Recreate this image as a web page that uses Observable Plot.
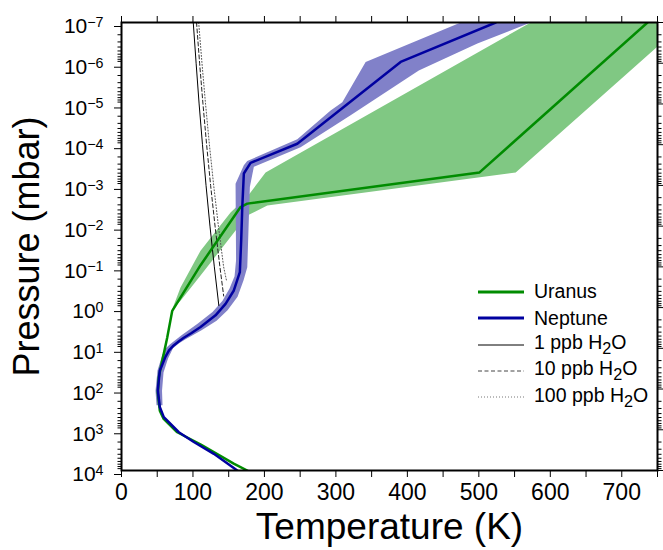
<!DOCTYPE html>
<html><head><meta charset="utf-8">
<script src="https://cdn.jsdelivr.net/npm/d3@7"></script>
<script src="https://cdn.jsdelivr.net/npm/@observablehq/plot@0.6"></script>
<style>
body{margin:0;background:#fff;}
#wrap{position:relative;width:663px;height:550px;font-family:'Liberation Sans',Arial,Helvetica,sans-serif;}
#legend{position:absolute;left:478px;top:279px;font-size:19.5px;color:#000;line-height:1;}
.row{display:flex;align-items:center;height:26.3px;white-space:nowrap;}
.row svg{width:46px;height:10px;margin-right:10px;flex:none;}
</style></head><body><div id="wrap"></div>
<script>
// ---- data (temperature K, pressure mbar) ----
const uranusT = [176, 157, 111, 78, 59, 53.6, 50.8, 52.2, 56, 59.2, 64, 71, 110.6, 166.6, 176, 501, 736];
const uranusP = [1e4, 6800, 2300, 1150, 540, 340, 126, 51, 24, 13.5, 5.4, 1.2, 0.091, 0.0034, 0.0028, 4.8e-4, 1e-7];

const neptuneT = [162, 129.2, 101.2, 80.2, 59.2, 53.6, 50.8, 53.6, 56, 61.6, 66.5, 73, 80, 87.2, 98, 110.6, 131.6, 145.6, 157.2, 165.6, 167.5, 169, 171.2, 180.6, 246, 390.6, 523.6];
const neptuneP = [1e4, 3900, 2000, 1150, 490, 275, 107, 35, 28, 16, 11.2, 8.5, 6.8, 5.5, 4.2, 3.0, 1.55, 0.81, 0.38, 0.135, 0.022, 0.0034, 5.1e-4, 2.8e-4, 9.5e-5, 9.3e-7, 1e-7];

// uncertainty envelopes: cold edge (bottom -> top), warm edge (top -> bottom)
const uranusColdT = [71, 82.6, 110.6, 152.6, 176, 201.6, 572.6];
const uranusColdP = [1.1, 0.32, 0.040, 0.0046, 0.0019, 4.8e-4, 1e-7];
const uranusWarmT = [788, 752.2, 551.6, 204, 176, 152.6, 110.6, 82.6];
const uranusWarmP = [1e-7, 3.6e-7, 4.8e-4, 0.0031, 0.0055, 0.0186, 0.162, 0.68];

const neptuneColdT = [49, 47.6, 50.4, 57.4, 62, 68, 76, 84, 106.4, 127.4, 141.4, 151.2, 158.2, 160.3, 159.6, 171.2, 176, 246, 292.6, 309, 341.6, 474.6];
const neptuneColdP = [251, 110, 35, 14, 10, 8.0, 6.2, 4.8, 2.5, 1.29, 0.68, 0.34, 0.17, 0.069, 9.1e-4, 3.2e-4, 2.5e-4, 7.4e-5, 1.45e-5, 9.1e-6, 9.3e-7, 1e-7];
const neptuneWarmT = [572.6, 498, 416, 320.6, 250.6, 185.2, 179.6, 176, 170.8, 162.4, 148.4, 133, 112, 89.6, 80, 72, 65.1, 58.8, 56.7, 57.4];
const neptuneWarmP = [1e-7, 3.3e-7, 1.5e-6, 1.9e-5, 1.15e-4, 3.5e-4, 1.1e-3, 0.102, 0.214, 0.54, 1.17, 2.1, 3.6, 6.0, 7.6, 10, 17.8, 39, 110, 251];

// H2O condensation curves
const h2o1T = [100.4, 104.4, 108.6, 113.3, 118.3, 123.8, 129.9, 136.2];
const h2o1P = [1e-7, 1e-6, 1e-5, 1e-4, 1e-3, 1e-2, 0.1, 0.89];
const h2o10T = [105, 109.3, 114, 119.1, 124.7, 130.9, 137.7, 143];
const h2o10P = [1e-7, 1e-6, 1e-5, 1e-4, 1e-3, 1e-2, 0.1, 0.52];
const h2o100T = [108, 112.6, 117.6, 123, 129, 135.6, 142.9, 147];
const h2o100P = [1e-7, 1e-6, 1e-5, 1e-4, 1e-3, 1e-2, 0.1, 0.22];

// ticks & labels
const xTickLabels = [0, 100, 200, 300, 400, 500, 600, 700];
const xMinorTicks = [50, 150, 250, 350, 450, 550, 650, 750];
const yExponents = [-7, -6, -5, -4, -3, -2, -1, 0, 1, 2, 3, 4];
const xTitle = "Temperature (K)";
const yTitle = "Pressure (mbar)";
const legendNames = ["Uranus", "Neptune", "1 ppb H<sub>2</sub>O", "10 ppb H<sub>2</sub>O", "100 ppb H<sub>2</sub>O"];

// ---- build tables ----
const pts = (T, P) => T.map((t, i) => ({T: t, P: P[i]}));
const uranus = pts(uranusT, uranusP);
const neptune = pts(neptuneT, neptuneP);
const uranusBand = pts(uranusColdT, uranusColdP).concat(pts(uranusWarmT, uranusWarmP));
const neptuneBand = pts(neptuneColdT, neptuneColdP).concat(pts(neptuneWarmT, neptuneWarmP));
const h2o1 = pts(h2o1T, h2o1P), h2o10 = pts(h2o10T, h2o10P), h2o100 = pts(h2o100T, h2o100P);
const yMajor = yExponents.map(e => Math.pow(10, e));
const yMinor = [];
yExponents.slice(0, -1).forEach(e => { for (let k = 2; k <= 9; k++) yMinor.push(k * Math.pow(10, e)); });

const cGreen = "#008c00", cGreenBand = "#80c883", cBlue = "#0000a0", cBlueBand = "#8181c9";
const font = "'Liberation Sans', Arial, Helvetica, sans-serif";
const expFmt = d => { const e = Math.round(Math.log10(d)); return e < 0 ? "\u2212" + (-e) : String(e); };
const none = () => "";

const chart = Plot.plot({
  width: 663, height: 550,
  marginLeft: 121, marginRight: 6, marginTop: 22, marginBottom: 80,
  style: {fontFamily: font, background: "white", color: "black", overflow: "visible"},
  x: {domain: [0, 750], label: null},
  y: {type: "log", domain: [1e4, 1e-7], label: null},
  marks: [
    Plot.line(uranusBand, {x: "T", y: "P", fill: cGreenBand, stroke: "none", clip: true}),
    Plot.line(neptuneBand, {x: "T", y: "P", fill: cBlueBand, stroke: "none", clip: true}),
    Plot.line(h2o1, {x: "T", y: "P", stroke: "black", strokeWidth: 1, clip: true}),
    Plot.line(h2o10, {x: "T", y: "P", stroke: "#222", strokeWidth: 1, strokeDasharray: "4,2.5", clip: true}),
    Plot.line(h2o100, {x: "T", y: "P", stroke: "#555", strokeWidth: 1, strokeDasharray: "1,2", clip: true}),
    Plot.line(uranus, {x: "T", y: "P", stroke: cGreen, strokeWidth: 2.5, clip: true}),
    Plot.line(neptune, {x: "T", y: "P", stroke: cBlue, strokeWidth: 2.5, clip: true}),
    Plot.frame({stroke: "black", strokeWidth: 2}),
    Plot.axisX({anchor: "bottom", ticks: xTickLabels, tickSize: 7, tickPadding: 6, fontSize: 23,
      tickFormat: d => String(d), label: null}),
    Plot.axisX({anchor: "bottom", ticks: xMinorTicks, tickSize: 7, tickFormat: none, label: null}),
    Plot.axisX({anchor: "top", ticks: xTickLabels.concat(xMinorTicks), tickSize: 7, tickFormat: none, label: null}),
    Plot.axisY({anchor: "left", ticks: yMajor, tickSize: 7, tickPadding: 11, fontSize: 21, dy: 4,
      tickFormat: expFmt, label: null}),
    Plot.axisY({anchor: "left", ticks: yMinor, tickSize: 3.5, tickFormat: none, label: null}),
    Plot.axisY({anchor: "right", ticks: yMajor, tickSize: 7, tickFormat: none, label: null}),
    Plot.axisY({anchor: "right", ticks: yMinor, tickSize: 3.5, tickFormat: none, label: null}),
    Plot.text([xTitle], {frameAnchor: "bottom", dy: 57, fontSize: 37, textAnchor: "middle", lineAnchor: "middle", text: d => d}),
    Plot.text([yTitle], {frameAnchor: "left", dx: -94, rotate: -90, fontSize: 36, textAnchor: "middle", lineAnchor: "middle", text: d => d})
  ]
});

// drop empty tick-label texts (tick-only axes)
d3.select(chart).selectAll("text").filter(function () { return this.textContent === ""; }).remove();

// superscript exponents on y tick labels: "10" + exponent
d3.select(chart).selectAll('g[aria-label="y-axis tick label"] text').each(function () {
  const t = d3.select(this);
  const exp = t.text();
  if (!exp) return;
  t.text(null);
  t.append("tspan").text("10");
  t.append("tspan").attr("dy", "-0.45em").attr("font-size", "0.68em").text(exp);
});

const wrap = document.getElementById("wrap");
wrap.appendChild(chart);

// legend
const legendStyles = [
  {stroke: cGreen, width: 3, dash: null},
  {stroke: cBlue, width: 3, dash: null},
  {stroke: "black", width: 1, dash: null},
  {stroke: "#444", width: 1, dash: "4,2.5"},
  {stroke: "#777", width: 1, dash: "1,2"}
];
const legend = document.createElement("div");
legend.id = "legend";
legend.innerHTML = legendNames.map((name, i) => {
  const s = legendStyles[i];
  return `<div class="row"><svg viewBox="0 0 46 10"><line x1="0" x2="46" y1="5" y2="5" stroke="${s.stroke}" stroke-width="${s.width}" ${s.dash ? `stroke-dasharray="${s.dash}"` : ""}/></svg><span>${name}</span></div>`;
}).join("");
wrap.appendChild(legend);
</script></body></html>
